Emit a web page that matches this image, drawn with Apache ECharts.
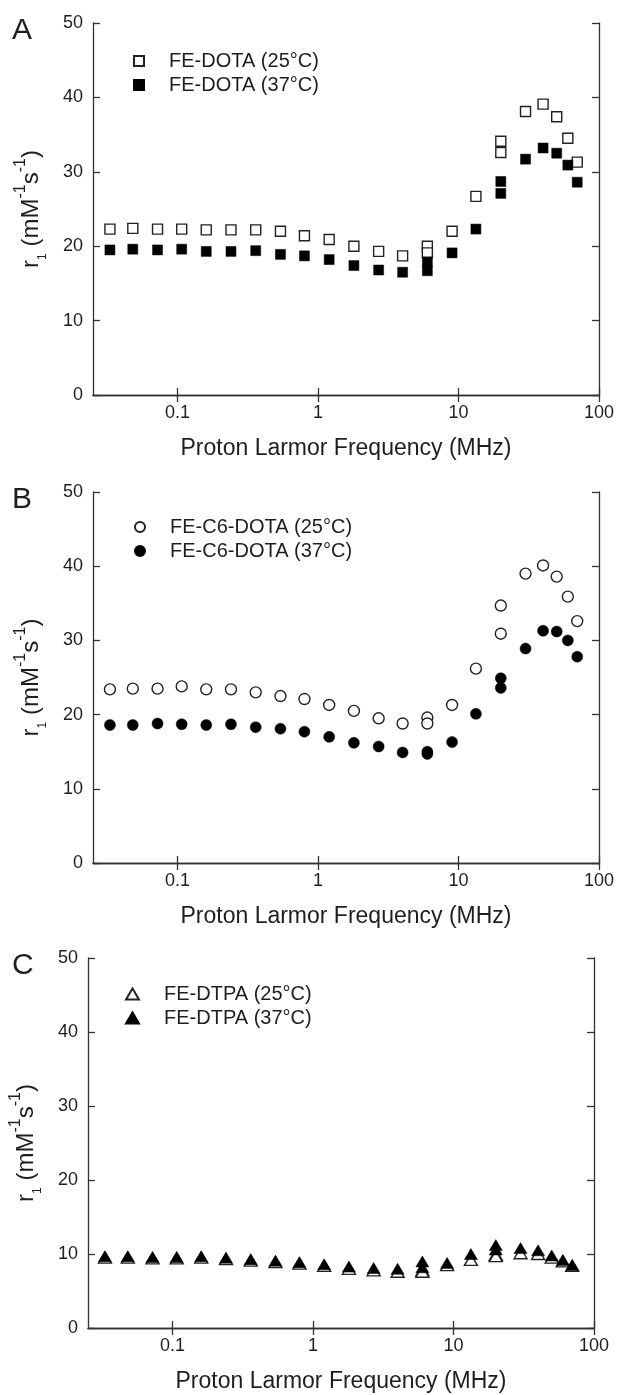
<!DOCTYPE html>
<html><head><meta charset="utf-8">
<script src="https://cdn.jsdelivr.net/npm/echarts@6/dist/echarts.min.js"></script>
<style>html,body{margin:0;padding:0;background:#fff}#c{width:617px;height:1395px}</style>
</head><body><div id="c"></div>
<script>
// ---- data ----
const freqMHz = [0.033, 0.048, 0.072, 0.107, 0.16, 0.24, 0.36, 0.54, 0.8, 1.2, 1.8, 2.7, 4.0, 6.0, 6.0, 9.0, 13.3, 20, 20, 30, 40, 50, 60, 70];
const xTickValues = [0.1, 1, 10, 100];
const xTickLabels = ['0.1', '1', '10', '100'];
const yTickLabels = ['0', '10', '20', '30', '40', '50'];
const panelLetters = ['A', 'B', 'C'];
const seriesNames = [
  ['FE-DOTA (25°C)', 'FE-DOTA (37°C)'],
  ['FE-C6-DOTA (25°C)', 'FE-C6-DOTA (37°C)'],
  ['FE-DTPA (25°C)', 'FE-DTPA (37°C)']
];
const dota25 = [22.3, 22.4, 22.3, 22.3, 22.2, 22.2, 22.2, 22.0, 21.4, 20.9, 20.0, 19.3, 18.7, 20.0, 19.1, 22.0, 26.7, 34.1, 32.6, 38.1, 39.1, 37.4, 34.5, 31.3];
const dota37 = [19.5, 19.6, 19.5, 19.6, 19.3, 19.3, 19.4, 18.9, 18.7, 18.2, 17.4, 16.8, 16.5, 16.7, 17.9, 19.1, 22.3, 28.7, 27.1, 31.7, 33.2, 32.5, 30.9, 28.6];
const c6dota25 = [23.4, 23.5, 23.5, 23.8, 23.4, 23.4, 23.0, 22.5, 22.1, 21.3, 20.5, 19.5, 18.8, 19.6, 18.8, 21.3, 26.2, 34.7, 30.9, 39.0, 40.1, 38.6, 35.9, 32.6];
const c6dota37 = [18.6, 18.6, 18.8, 18.7, 18.6, 18.7, 18.3, 18.1, 17.7, 17.0, 16.2, 15.7, 14.9, 15.0, 14.7, 16.3, 20.1, 24.9, 23.6, 28.9, 31.3, 31.2, 30.0, 27.8];
const dtpa25 = [9.5, 9.5, 9.4, 9.4, 9.5, 9.3, 9.1, 8.9, 8.7, 8.4, 8.0, 7.8, 7.6, 7.8, 7.6, 8.5, 9.2, 9.9, 9.7, 10.1, 10.0, 9.5, 9.0, 8.4];
const dtpa37 = [9.7, 9.7, 9.6, 9.6, 9.7, 9.5, 9.3, 9.1, 8.9, 8.6, 8.3, 8.1, 8.0, 9.0, 8.2, 8.8, 10.0, 11.2, 10.6, 10.8, 10.5, 9.8, 9.2, 8.5];

// ---- layout / style ----
const FONT = '"Liberation Sans", Arial, Helvetica, sans-serif';
const TXT = '#1e1e1e';
const LINE = '#333';
const grids = [
  { left: 93, top: 23, width: 506, height: 372 },
  { left: 93, top: 492, width: 506, height: 371 },
  { left: 87, top: 958, width: 507, height: 370 }
];
const symbols = ['rect', 'circle', 'triangle'];
const symSizes = [10, 11, [13, 11]];
const panelData = [[dota25, dota37], [c6dota25, c6dota37], [dtpa25, dtpa37]];
const legendPos = [
  { left: 133, top: 51 },
  { left: 134, top: 517 },
  { left: 125, top: 984 }
];

function xFmt(v) {
  const l = Math.log10(v);
  const e = Math.round(l);
  if (Math.abs(l - e) > 1e-6) return '';
  return xTickLabels[e + 1] || '';
}

const xAxes = [], yAxes = [], series = [], legends = [], graphics = [];
grids.forEach((g, i) => {
  const lineStyle = { color: LINE, width: 1.3 };
  xAxes.push({
    type: 'log', logBase: 10, gridIndex: i, min: 0.025, max: 100, position: 'bottom',
    axisLine: { show: true, lineStyle },
    axisTick: { show: true, inside: true, length: 7, lineStyle, customValues: xTickValues },
    minorTick: { show: false }, splitLine: { show: false },
    axisLabel: { formatter: xFmt, customValues: xTickValues, fontSize: 18, color: TXT, fontFamily: FONT, margin: 9 },
    name: 'Proton Larmor Frequency (MHz)', nameLocation: 'middle', nameGap: 42,
    nameTextStyle: { fontSize: 23, color: TXT, fontFamily: FONT }
  });
  xAxes.push({
    type: 'log', logBase: 10, gridIndex: i, min: 0.025, max: 100, position: 'top',
    axisLine: { show: true, lineStyle },
    axisTick: { show: true, inside: true, length: 7, lineStyle, customValues: xTickValues },
    splitLine: { show: false }, axisLabel: { show: false }
  });
  yAxes.push({
    type: 'value', gridIndex: i, min: 0, max: 50, interval: 10, position: 'left',
    axisLine: { show: true, lineStyle },
    axisTick: { show: true, inside: true, length: 7, lineStyle },
    splitLine: { show: false },
    axisLabel: { formatter: (v) => yTickLabels[Math.round(v / 10)], fontSize: 18, color: TXT, fontFamily: FONT, margin: 10 },
    name: '{t|r}{sub|1}{t| (mM}{sup|-1}{t|s}{sup|-1}{t|)}', nameLocation: 'middle', nameRotate: 90, nameGap: 44,
    nameTextStyle: {
      color: TXT, fontFamily: FONT,
      rich: {
        t: { fontSize: 24, lineHeight: 36, color: TXT, fontFamily: FONT },
        sup: { fontSize: 16, lineHeight: 4, verticalAlign: 'top', color: TXT, fontFamily: FONT },
        sub: { fontSize: 12, lineHeight: 14, verticalAlign: 'bottom', color: TXT, fontFamily: FONT }
      }
    }
  });
  yAxes.push({
    type: 'value', gridIndex: i, min: 0, max: 50, interval: 10, position: 'right',
    axisLine: { show: true, lineStyle },
    axisTick: { show: true, inside: true, length: 7, lineStyle },
    splitLine: { show: false }, axisLabel: { show: false }
  });
  const [open, filled] = panelData[i];
  series.push({
    type: 'scatter', name: seriesNames[i][0], xAxisIndex: 2 * i, yAxisIndex: 2 * i,
    symbol: symbols[i], symbolSize: symSizes[i],
    itemStyle: { color: '#fff', borderColor: '#222', borderWidth: 1.4, opacity: 1 },
    data: freqMHz.map((f, k) => [f, open[k]]), z: 2
  });
  series.push({
    type: 'scatter', name: seriesNames[i][1], xAxisIndex: 2 * i, yAxisIndex: 2 * i,
    symbol: symbols[i], symbolSize: symSizes[i],
    itemStyle: { color: '#000', borderColor: '#000', borderWidth: 0.5, opacity: 1 },
    data: freqMHz.map((f, k) => [f, filled[k]]), z: 3
  });
  legends.push({
    orient: 'vertical', left: legendPos[i].left, top: legendPos[i].top, padding: 0,
    itemGap: 4, itemWidth: i === 2 ? 13 : 10, itemHeight: i === 2 ? 11 : 10,
    data: seriesNames[i].map((n) => ({ name: n, icon: symbols[i] })),
    textStyle: { fontSize: 20, color: TXT, fontFamily: FONT, padding: [0, 0, 0, 20] },
    selectedMode: false
  });
  graphics.push({
    type: 'text', left: 12, top: g.top - 7,
    style: { text: panelLetters[i], fontSize: 30, fill: TXT, fontFamily: FONT }
  });
});

const chart = echarts.init(document.getElementById('c'));
chart.setOption({
  animation: false,
  backgroundColor: '#fff',
  grid: grids.map((g) => Object.assign({ containLabel: false }, g)),
  xAxis: xAxes, yAxis: yAxes, series, legend: legends, graphic: graphics
});
</script>
</body></html>
